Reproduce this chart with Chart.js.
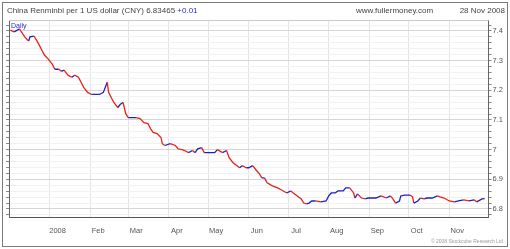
<!DOCTYPE html>
<html>
<head>
<meta charset="utf-8">
<script src="https://cdn.jsdelivr.net/npm/chart.js@4"></script>
<style>
  html, body { margin: 0; padding: 0; background: #fff; }
  canvas { display: block; }
</style>
</head>
<body>
<canvas id="myChart" width="510" height="249"></canvas>
<script>
// daily close (Dec 2007 - Nov 2008)
var dates = [
    '2007-12-02', '2007-12-05', '2007-12-09', '2007-12-10', '2007-12-13', '2007-12-16', '2007-12-17',
    '2007-12-20', '2007-12-22', '2007-12-24', '2007-12-26', '2007-12-28', '2007-12-31',
    '2008-01-03', '2008-01-05', '2008-01-08', '2008-01-10', '2008-01-12', '2008-01-15', '2008-01-18',
    '2008-01-20', '2008-01-23', '2008-01-25', '2008-01-27', '2008-01-30',
    '2008-02-02', '2008-02-04', '2008-02-08', '2008-02-11', '2008-02-14', '2008-02-15', '2008-02-17',
    '2008-02-19', '2008-02-22', '2008-02-24', '2008-02-26', '2008-02-27', '2008-02-28',
    '2008-03-01', '2008-03-07', '2008-03-10', '2008-03-13', '2008-03-16', '2008-03-18', '2008-03-20',
    '2008-03-23', '2008-03-26', '2008-03-27', '2008-03-29',
    '2008-04-02', '2008-04-06', '2008-04-08', '2008-04-11', '2008-04-13', '2008-04-16', '2008-04-19',
    '2008-04-21', '2008-04-23', '2008-04-26', '2008-04-28',
    '2008-05-02', '2008-05-06', '2008-05-08', '2008-05-12', '2008-05-15', '2008-05-17', '2008-05-20',
    '2008-05-23', '2008-05-25', '2008-05-27', '2008-05-30',
    '2008-06-01', '2008-06-04', '2008-06-07', '2008-06-09', '2008-06-11', '2008-06-13', '2008-06-15',
    '2008-06-19', '2008-06-23', '2008-06-26', '2008-06-30',
    '2008-07-03', '2008-07-05', '2008-07-08', '2008-07-11', '2008-07-13', '2008-07-15', '2008-07-17',
    '2008-07-19', '2008-07-22', '2008-07-26', '2008-07-30',
    '2008-08-01', '2008-08-03', '2008-08-06', '2008-08-08', '2008-08-12', '2008-08-14', '2008-08-17',
    '2008-08-20', '2008-08-21', '2008-08-23', '2008-08-26', '2008-08-29', '2008-08-31',
    '2008-09-04', '2008-09-06', '2008-09-10', '2008-09-14', '2008-09-17', '2008-09-19', '2008-09-21',
    '2008-09-24', '2008-09-25', '2008-09-28',
    '2008-10-02', '2008-10-04', '2008-10-05', '2008-10-08', '2008-10-10', '2008-10-13', '2008-10-15',
    '2008-10-19', '2008-10-23', '2008-10-25', '2008-10-28',
    '2008-11-01', '2008-11-05', '2008-11-08', '2008-11-12', '2008-11-16', '2008-11-20', '2008-11-22',
    '2008-11-26', '2008-11-28'
];
var rates = [
    7.403, 7.397, 7.407, 7.400, 7.380, 7.366, 7.380,
    7.383, 7.369, 7.353, 7.336, 7.319, 7.305,
    7.288, 7.271, 7.271, 7.264, 7.268, 7.251, 7.244,
    7.251, 7.244, 7.227, 7.210, 7.193,
    7.186, 7.186, 7.186, 7.193, 7.227, 7.193, 7.176,
    7.159, 7.142, 7.153, 7.159, 7.142, 7.122,
    7.108, 7.108, 7.105, 7.091, 7.088, 7.071, 7.058,
    7.054, 7.041, 7.020, 7.014,
    7.020, 7.014, 7.003, 7.000, 6.997, 6.990, 6.997,
    6.990, 7.003, 7.007, 6.990,
    6.990, 6.990, 7.000, 6.990, 6.997, 6.973, 6.956,
    6.946, 6.939, 6.946, 6.939,
    6.939, 6.946, 6.929, 6.919, 6.905, 6.905, 6.888,
    6.878, 6.871, 6.864, 6.854,
    6.861, 6.854, 6.844, 6.834, 6.820, 6.817, 6.820,
    6.827, 6.827, 6.824, 6.827,
    6.844, 6.854, 6.854, 6.861, 6.861, 6.871, 6.871,
    6.854, 6.837, 6.851, 6.837, 6.834, 6.837,
    6.837, 6.837, 6.844, 6.837, 6.844, 6.834, 6.820,
    6.827, 6.844, 6.847,
    6.847, 6.841, 6.820, 6.827, 6.837, 6.834, 6.837,
    6.837, 6.844, 6.841, 6.837,
    6.827, 6.824, 6.827, 6.831, 6.827, 6.831, 6.824,
    6.834, 6.835
];

// month starts, in days from 1 Jan 2008
var monthDays = [-31, 0, 31, 60, 91, 121, 152, 182, 213, 244, 274, 305, 335];
var monthLabels = ['', '2008', 'Feb', 'Mar', 'Apr', 'May', 'Jun', 'Jul', 'Aug', 'Sep', 'Oct', 'Nov', ''];

var yMin = 6.773, yMax = 7.437;

var RED = '#e8211b';
var BLUE = '#1f1fc8';

var dayZero = Date.parse('2008-01-01');
var points = [];
for (var i in dates) {
    points.push({ x: (Date.parse(dates[i]) - dayZero) / 864e5, y: rates[i] });
}

var yTickValues = [];
for (var k = 339; k <= 371; k++) {
    yTickValues.push(k / 50);
}
function isMajor(v) {
    return Math.round(v * 100) % 10 === 0;
}
function setYTicks(scale) {
    scale.ticks = yTickValues.map(function (v) { return { value: v }; });
}

var frame = {
    id: 'frame',
    afterDraw: function (chart) {
        var c = chart.ctx;
        var a = chart.chartArea;
        c.save();
        // plot top edge
        c.strokeStyle = '#c8c8c8';
        c.lineWidth = 1;
        c.beginPath();
        c.moveTo(a.left, Math.round(a.top) + 0.5);
        c.lineTo(a.right, Math.round(a.top) + 0.5);
        c.stroke();

        // outer border
        c.strokeStyle = '#7a7a7a';
        c.strokeRect(2.5, 2.5, 505, 244);

        c.textBaseline = 'alphabetic';
        c.font = '8px "Liberation Sans", Arial, sans-serif';
        c.fillStyle = '#444';
        var title = 'China Renminbi per 1 US dollar (CNY) 6.83465 ';
        c.fillText(title, 7, 13);
        c.fillStyle = '#2a2ad0';
        c.fillText('+0.01', 7 + c.measureText(title).width, 13);

        c.fillStyle = '#444';
        c.fillText('www.fullermoney.com', 356, 13);
        c.textAlign = 'right';
        c.fillText('28 Nov 2008', 505, 13);

        c.font = '5px "Liberation Sans", Arial, sans-serif';
        c.fillStyle = '#9a9a9a';
        c.fillText('\u00a9 2008 Stockcube Research Ltd', 503, 243);

        c.textAlign = 'left';
        c.font = '7px "Liberation Sans", Arial, sans-serif';
        c.fillStyle = '#3030c0';
        c.fillText('Daily', a.left + 2, a.top + 8);
        c.restore();
    }
};

var ctx = document.getElementById('myChart').getContext('2d');
var myChart = new Chart(ctx, {
    type: 'line',
    data: {
        datasets: [{
            data: points,
            borderWidth: 1.3,
            pointRadius: 0,
            tension: 0,
            segment: {
                borderColor: function (s) {
                    return s.p1.parsed.y < s.p0.parsed.y ? RED : BLUE;
                }
            }
        }]
    },
    options: {
        responsive: false,
        animation: false,
        layout: { padding: { top: 20, left: 4, right: 6, bottom: 5 } },
        plugins: {
            legend: { display: false },
            tooltip: { enabled: false }
        },
        scales: {
            x: {
                type: 'linear',
                min: -31,
                max: 335,
                afterBuildTicks: function (scale) {
                    scale.ticks = monthDays.map(function (v) { return { value: v }; });
                },
                ticks: {
                    autoSkip: false,
                    maxRotation: 0,
                    labelOffset: 8,
                    padding: 9,
                    color: '#555',
                    font: { size: 7.5, family: '"Liberation Sans", Arial, sans-serif' },
                    callback: function (v, i) { return monthLabels[i]; }
                },
                grid: { color: '#e4e4e4', drawTicks: false },
                border: { color: '#555' }
            },
            y: {
                position: 'right',
                min: yMin,
                max: yMax,
                afterBuildTicks: setYTicks,
                ticks: {
                    autoSkip: false,
                    padding: 1,
                    color: '#555',
                    font: { size: 7.5, family: '"Liberation Sans", Arial, sans-serif' },
                    callback: function (v) { return isMajor(v) ? String(Number(v.toFixed(2))) : ''; }
                },
                grid: {
                    tickLength: 3,
                    tickColor: '#888',
                    color: function (g) { return isMajor(g.tick.value) ? '#d6d6d6' : '#f1f1f1'; }
                },
                border: { color: '#666' }
            },
            yLeft: {
                position: 'left',
                min: yMin,
                max: yMax,
                afterBuildTicks: setYTicks,
                ticks: { display: false },
                grid: { drawOnChartArea: false, tickLength: 3, tickColor: '#888' },
                border: { color: '#666' }
            }
        }
    },
    plugins: [frame]
});
</script>
</body>
</html>
